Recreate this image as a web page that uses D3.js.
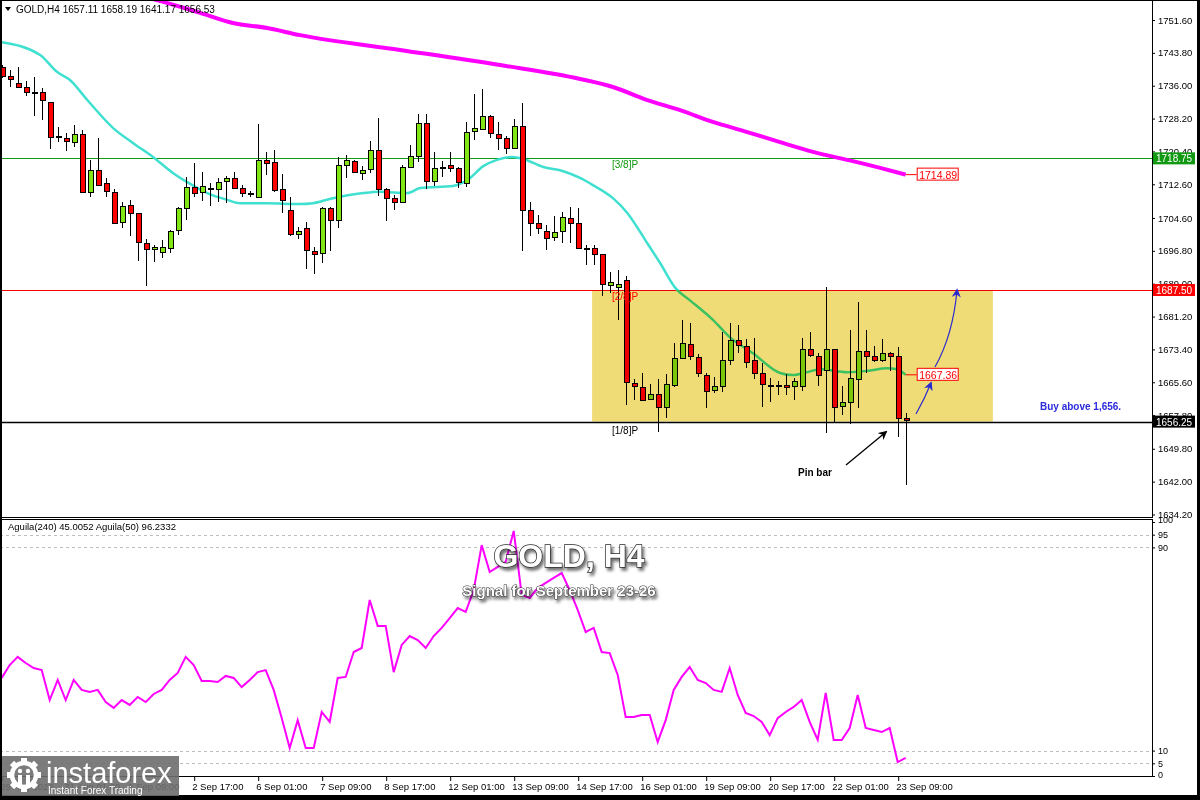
<!DOCTYPE html>
<html><head><meta charset="utf-8">
<script src="https://cdn.jsdelivr.net/npm/d3@7"></script>
<style>body{margin:0;background:#000;} svg{display:block;}</style>
</head><body>
<svg id="c" width="1200" height="800"></svg>
<script>
// ---------- DATA ----------
const opens  = [1740.5,1738.3,1736.6,1735.6,1734.6,1734.4,1732.2,1724.0,1723.5,1722.7,1724.5,1710.8,1716.1,1712.8,1710.8,1703.5,1707.7,1705.7,1698.6,1697.1,1696.3,1697.6,1701.6,1706.9,1712.0,1710.8,1711.8,1711.6,1713.2,1714.2,1711.6,1710.6,1709.5,1718.3,1717.8,1711.4,1706.6,1700.9,1702.1,1696.8,1696.2,1706.9,1704.1,1717.0,1718.1,1715.4,1716.1,1720.7,1711.4,1709.3,1708.4,1716.8,1719.3,1727.2,1713.4,1716.8,1717.2,1716.4,1713.1,1725.1,1725.7,1728.8,1724.5,1723.7,1721.3,1726.5,1706.6,1703.5,1701.6,1700.0,1701.6,1704.7,1703.5,1697.5,1697.4,1696.0,1688.8,1688.3,1689.9,1665.5,1664.5,1661.5,1662.7,1659.6,1665.1,1671.4,1674.6,1671.5,1667.4,1663.7,1664.7,1670.9,1675.6,1674.2,1670.9,1667.7,1664.9,1664.9,1664.9,1664.7,1664.7,1673.4,1671.9,1668.6,1673.6,1659.8,1660.8,1666.5,1673.1,1671.9,1671.0,1672.6,1671.8,1657.11];
const highs  = [1741.0,1739.7,1740.4,1737.0,1738.0,1735.4,1732.2,1726.1,1724.7,1726.7,1725.5,1718.3,1723.5,1714.0,1711.4,1708.4,1708.9,1705.8,1699.5,1698.2,1699.4,1701.7,1707.1,1714.4,1717.7,1715.6,1713.0,1714.0,1714.6,1715.6,1712.4,1711.0,1726.9,1720.3,1720.7,1715.0,1709.5,1702.4,1703.7,1697.6,1707.3,1707.3,1719.0,1719.5,1718.3,1716.9,1722.9,1728.4,1711.6,1710.0,1717.2,1721.9,1729.4,1729.4,1720.3,1718.1,1720.3,1716.6,1727.4,1734.0,1735.1,1729.0,1727.4,1724.0,1728.0,1731.8,1708.4,1705.3,1702.9,1705.0,1706.1,1707.1,1706.9,1698.2,1698.2,1696.1,1691.7,1692.2,1690.8,1666.3,1667.7,1665.3,1666.3,1667.5,1674.9,1680.3,1679.7,1672.3,1667.7,1666.9,1677.6,1679.6,1679.3,1675.8,1676.0,1670.2,1666.7,1665.9,1667.5,1666.7,1676.2,1677.6,1672.6,1688.3,1673.6,1664.7,1678.0,1684.7,1678.0,1674.2,1675.8,1672.8,1674.0,1658.19];
const lows   = [1737.8,1735.8,1735.4,1733.6,1728.8,1727.9,1721.0,1722.7,1720.6,1721.5,1710.7,1709.6,1712.5,1709.5,1703.3,1702.1,1700.3,1694.4,1688.4,1694.2,1695.0,1696.2,1700.5,1704.1,1709.5,1708.7,1707.4,1708.4,1708.1,1711.6,1709.5,1709.5,1709.3,1714.8,1710.8,1705.7,1700.3,1699.5,1692.6,1691.3,1694.0,1696.8,1702.1,1714.0,1715.2,1713.6,1715.3,1709.8,1703.9,1706.6,1708.1,1716.6,1717.9,1711.4,1712.2,1714.4,1715.6,1711.8,1712.0,1723.1,1725.5,1723.7,1720.7,1719.8,1720.9,1696.8,1700.3,1700.8,1697.1,1699.2,1698.7,1698.7,1697.4,1693.4,1693.4,1686.1,1686.8,1680.3,1660.2,1661.4,1661.4,1661.3,1653.8,1657.0,1664.5,1671.0,1670.9,1666.8,1659.6,1663.1,1663.3,1669.7,1672.6,1668.9,1666.3,1659.8,1661.0,1662.6,1662.5,1661.5,1663.6,1671.6,1664.7,1653.6,1656.2,1657.8,1655.8,1659.4,1667.7,1670.4,1670.4,1668.3,1652.5,1641.17];
const closes = [1738.3,1737.5,1735.6,1734.4,1734.6,1732.4,1723.9,1724.0,1722.7,1724.5,1710.8,1716.1,1712.6,1710.8,1703.5,1707.4,1705.7,1698.8,1697.1,1697.6,1697.6,1701.6,1706.9,1712.0,1710.6,1712.2,1711.8,1713.2,1714.0,1711.8,1710.4,1710.6,1718.3,1717.7,1711.2,1708.7,1700.9,1701.6,1696.8,1696.2,1706.9,1704.1,1717.2,1718.3,1715.4,1716.1,1720.7,1711.4,1709.3,1708.4,1716.8,1719.3,1727.2,1713.4,1716.4,1716.8,1716.6,1713.1,1725.1,1725.9,1728.8,1724.7,1723.5,1721.3,1726.5,1706.6,1703.5,1702.3,1700.0,1701.3,1704.9,1703.5,1697.6,1697.5,1696.0,1688.9,1689.5,1688.9,1665.7,1664.7,1661.5,1662.7,1659.6,1665.1,1671.4,1675.0,1671.8,1667.7,1663.7,1664.7,1670.9,1675.6,1674.4,1670.4,1667.7,1665.1,1664.9,1664.9,1664.5,1665.9,1673.4,1672.0,1667.4,1673.6,1659.8,1660.8,1666.5,1673.1,1672.0,1671.0,1672.6,1672.0,1657.0,1656.53];

const maFastIdx = [-0.2,4.8,6.9,8.5,10.7,13.9,16.4,18.9,21.4,23.2,25.7,28.2,29.8,33.2,37.3,38.9,41.0,45.2,47.3,50.7,52.3,56.4,58.2,60.2,61.9,63.9,65.2,67.7,70.2,72.3,73.9,76.4,78.2,80.7,82.3,84.2,86.0,88.9,91.0,93.9,97.3,98.9,100.7,102.3,105.7,108.2,110.7,111.9,113];
const maFastVal = [1746.4,1743.3,1739.3,1737.4,1732.6,1726.0,1722.4,1719.1,1715.3,1713.1,1710.5,1708.9,1708.1,1708.1,1707.9,1708.1,1709.1,1710.5,1710.8,1710.5,1711.7,1712.2,1713.6,1716.9,1718.4,1719.1,1718.6,1716.7,1715.7,1714.1,1712.4,1709.3,1705.8,1698.6,1693.9,1688.0,1685.1,1680.4,1676.3,1672.5,1667.8,1667.3,1668.0,1668.7,1668.0,1668.3,1668.9,1668.7,1667.36];
const maSlowIdx = [18.0,20.2,24.8,28.9,33.2,37.3,49.8,62.3,72.3,76.4,80.7,84.8,88.9,93.2,97.3,101.4,105.7,109.8,113];
const maSlowVal = [1757.0,1755.9,1753.3,1750.9,1749.7,1748.0,1744.5,1740.9,1737.6,1735.7,1732.6,1730.2,1727.4,1725.0,1722.6,1720.3,1718.4,1716.5,1714.89];

const aguila = [38.6,43.7,46.9,44.5,42.5,41.7,29.9,37.8,29.9,37.8,33.9,33.1,33.9,29.1,26.8,29.9,28.0,31.1,29.1,32.3,33.9,37.8,40.6,46.9,43.7,37.4,37.4,37.0,39.4,38.6,35.0,37.8,40.9,41.7,33.9,22.8,11.0,22.0,11.0,11.0,25.2,21.3,38.6,39.0,48.8,50.4,69.3,59.1,59.1,40.9,51.6,55.1,53.5,50.4,55.1,58.3,62.2,66.1,64.6,73.2,90.9,80.3,82.3,84.3,96.5,71.3,70.1,74.0,76.0,78.0,79.9,73.2,65.4,56.7,58.3,48.8,48.4,39.8,23.2,23.2,24.0,24.0,13.4,22.0,33.9,39.0,42.9,37.8,36.6,33.9,33.1,42.5,31.9,24.8,23.6,21.3,16.1,22.8,25.2,27.2,29.9,21.3,14.2,32.7,14.2,14.2,18.9,31.9,18.9,18.1,17.3,18.9,5.5,7.1];

const timeTickIdx = [0,8,16,24,32,40,48,56,64,72,80,88,96,104,112];
const timeLabels = ["29 Aug 2022","31 Aug 01:00","1 Sep 09:00","2 Sep 17:00","6 Sep 01:00","7 Sep 09:00","8 Sep 17:00","12 Sep 01:00","13 Sep 09:00","14 Sep 17:00","16 Sep 01:00","19 Sep 09:00","20 Sep 17:00","22 Sep 01:00","23 Sep 09:00"];
const priceTicks = [1751.6,1743.8,1736.0,1728.2,1720.4,1712.6,1704.6,1696.8,1689.0,1681.2,1673.4,1665.6,1657.8,1649.8,1642.0,1634.2];
const levelVals = [1718.75,1687.50,1656.25];
const levelNames = ["[3/8]P","[2/8]P","[1/8]P"];
const levelColors = ["#119911","#ff0000","#000000"];
const aguilaLevels = [95,90,10,5];
const aguilaTicks = [100,95,90,10,5,0];
const zoneIdx = [73.8,123.9];
const zonePrices = [1687.5,1656.25];
const lastFast = 1667.36, lastSlow = 1714.89;

// ---------- SETUP ----------
const svg = d3.select('#c');
const W=1200,H=800, axisX=1152;
const n = opens.length;
const x = d3.scaleLinear().domain([0,113]).range([1.7,905.7]);
const y = d3.scaleLinear().domain([1634.2,1751.6]).range([514.5,20]);
const yi = d3.scaleLinear().domain([0,100]).range([776,522]);
const font = "'Liberation Sans', Arial, sans-serif";

const defs = svg.append('defs');
defs.append('clipPath').attr('id','clipMain').append('rect').attr('x',2).attr('y',1).attr('width',axisX-2).attr('height',516);
defs.append('clipPath').attr('id','clipInd').append('rect').attr('x',2).attr('y',519).attr('width',axisX-2).attr('height',257);
const sh = defs.append('filter').attr('id','shadow').attr('x','-20%').attr('y','-40%').attr('width','140%').attr('height','180%');
sh.append('feDropShadow').attr('dx',2).attr('dy',3).attr('stdDeviation',1.6).attr('flood-color','#000').attr('flood-opacity',0.55);
const mk = (id,col)=>defs.append('marker').attr('id',id).attr('viewBox','0 0 10 10').attr('refX',8).attr('refY',5)
  .attr('markerWidth',9).attr('markerHeight',9).attr('markerUnits','userSpaceOnUse').attr('orient','auto')
  .append('path').attr('d','M0,0 L10,5 L0,10 L3,5 Z').attr('fill',col);
mk('arrBlk','#000'); mk('arrBlue','#2a2ad0');

svg.append('rect').attr('width',W).attr('height',H).attr('fill','#000');
svg.append('rect').attr('x',2).attr('y',1).attr('width',1195).attr('height',794).attr('fill','#fff');

// ---------- MAIN PANEL ----------
const main = svg.append('g').attr('clip-path','url(#clipMain)');
// level lines
main.selectAll('line.lvl').data(levelVals).join('line')
  .attr('x1',0).attr('x2',axisX).attr('y1',d=>Math.round(y(d))+0.5).attr('y2',d=>Math.round(y(d))+0.5)
  .attr('stroke',(d,i)=>levelColors[i]).attr('stroke-width',(d,i)=>i==2?1.6:1);

// moving averages
const lineGen = d3.line().curve(d3.curveMonotoneX);
main.append('path').attr('d',lineGen(maSlowIdx.map((d,i)=>[x(d),y(maSlowVal[i])])))
  .attr('fill','none').attr('stroke','#ff00ff').attr('stroke-width',4);
main.append('path').attr('d',lineGen(maFastIdx.map((d,i)=>[x(d),y(maFastVal[i])])))
  .attr('fill','none').attr('stroke','#40e0d0').attr('stroke-width',2.5);

// candles
const cg = main.append('g').attr('shape-rendering','crispEdges');
const idx = d3.range(n);
cg.selectAll('line.w').data(idx).join('line')
  .attr('x1',i=>Math.round(x(i))+0.5).attr('x2',i=>Math.round(x(i))+0.5)
  .attr('y1',i=>Math.round(y(highs[i]))).attr('y2',i=>Math.round(y(lows[i])))
  .attr('stroke','#000').attr('stroke-width',1);
cg.selectAll('rect.b').data(idx).join('rect')
  .attr('x',i=>Math.round(x(i))-2)
  .attr('width',5)
  .attr('y',i=>Math.round(y(Math.max(opens[i],closes[i]))))
  .attr('height',i=>Math.max(1,Math.round(Math.abs(y(opens[i])-y(closes[i])))))
  .attr('fill',i=>Math.abs(opens[i]-closes[i])<0.2?'#000':(closes[i]>opens[i]?'#82e614':'#ff0000'))
  .attr('stroke','#000').attr('stroke-width',1);

// yellow zone (multiply)
svg.append('rect')
  .attr('x',x(zoneIdx[0])).attr('width',x(zoneIdx[1])-x(zoneIdx[0]))
  .attr('y',y(zonePrices[0])).attr('height',y(zonePrices[1])-y(zonePrices[0]))
  .attr('fill','#efdc76').style('mix-blend-mode','multiply');

// level texts
svg.selectAll('text.lvl').data(levelVals).join('text')
  .attr('x',612).attr('y',(d,i)=>i==2? y(d)+12 : y(d)+10)
  .attr('font-family',font).attr('font-size',10).attr('fill',(d,i)=>levelColors[i])
  .text((d,i)=>levelNames[i]);

// end-of-line labels
function endLabel(val,col){
  const yy = y(val), x0 = x(113);
  svg.append('line').attr('x1',x0).attr('x2',x0+11).attr('y1',yy).attr('y2',yy).attr('stroke',col);
  svg.append('rect').attr('x',x0+11.5).attr('y',yy-6.5).attr('width',41).attr('height',12).attr('fill','#fff').attr('stroke',col);
  svg.append('text').attr('x',x0+13.5).attr('y',yy+4).attr('font-family',font).attr('font-size',10.5).attr('fill',col).text(d3.format('.2f')(val));
}
endLabel(lastSlow,'#ff0000');
endLabel(lastFast,'#ff0000');

// annotations
svg.append('text').attr('x',1040).attr('y',410).attr('font-family',font).attr('font-size',10).attr('font-weight','bold')
  .attr('fill','#2b2bdb').text('Buy above 1,656.');
svg.append('text').attr('x',798).attr('y',476).attr('font-family',font).attr('font-size',10).attr('font-weight','bold')
  .attr('fill','#000').text('Pin bar');
svg.append('path').attr('d','M846,465 L886,432').attr('stroke','#000').attr('stroke-width',1.3).attr('fill','none').attr('marker-end','url(#arrBlk)');
svg.append('path').attr('d','M916,414 Q925,398 931,383').attr('stroke','#2a2ad0').attr('stroke-width',1.2).attr('fill','none').attr('marker-end','url(#arrBlue)');
svg.append('path').attr('d','M935,367 Q953,335 957,290').attr('stroke','#2a2ad0').attr('stroke-width',1.2).attr('fill','none').attr('marker-end','url(#arrBlue)');

// header
svg.append('path').attr('d','M5,7 L11,7 L8,11 Z').attr('fill','#000');
svg.append('text').attr('x',16).attr('y',13).attr('font-family',font).attr('font-size',10).attr('fill','#000')
  .text('GOLD,H4  '+[opens[n-1],highs[n-1],lows[n-1],closes[n-1]].map(d3.format('.2f')).join(' '));

// price axis
const pa = svg.append('g').attr('transform',`translate(${axisX},0)`)
  .call(d3.axisRight(y).tickValues(priceTicks).tickSize(3).tickFormat(d3.format('.2f')));
pa.select('.domain').remove();
pa.selectAll('text').attr('font-family',font).attr('font-size',9.5).attr('fill','#000').attr('x',6);
pa.selectAll('line').attr('stroke','#000');
// level price boxes on axis
levelVals.forEach((v,i)=>{
  const yy=y(v);
  svg.append('rect').attr('x',axisX+1).attr('y',yy-6).attr('width',42).attr('height',12).attr('fill',levelColors[i]);
  svg.append('text').attr('x',axisX+4).attr('y',yy+4).attr('font-family',font).attr('font-size',10).attr('fill','#fff').text(d3.format('.2f')(v));
});

// ---------- INDICATOR PANEL ----------
const ind = svg.append('g').attr('clip-path','url(#clipInd)');
ind.selectAll('line.al').data(aguilaLevels).join('line')
  .attr('x1',0).attr('x2',axisX).attr('y1',d=>Math.round(yi(d))+0.5).attr('y2',d=>Math.round(yi(d))+0.5)
  .attr('stroke','#bdbdbd').attr('stroke-dasharray','3,3');
ind.append('path').attr('d',d3.line().x((d,i)=>x(i)).y(d=>yi(d))(aguila))
  .attr('fill','none').attr('stroke','#ff00ff').attr('stroke-width',2);
svg.append('text').attr('x',8).attr('y',530).attr('font-family',font).attr('font-size',9.5).attr('fill','#000')
  .text('Aguila(240) 45.0052  Aguila(50) 96.2332');
const ia = svg.append('g').attr('transform',`translate(${axisX},0)`)
  .call(d3.axisRight(yi).tickValues(aguilaTicks).tickSize(3).tickFormat(d3.format('d')));
ia.select('.domain').remove();
ia.selectAll('text').attr('font-family',font).attr('font-size',9).attr('fill','#000').attr('x',6)
  .attr('dy',d=>d==100?'0.1em':(d==0?'0.15em':'0.32em'));
ia.selectAll('line').attr('stroke','#000');

// titles
const tg = svg.append('g').attr('filter','url(#shadow)');
tg.append('text').attr('x',569).attr('y',567).attr('text-anchor','middle').attr('font-family',font)
  .attr('font-size',32).attr('font-weight','bold').attr('fill','#fff').attr('stroke','#2a2a2a').attr('stroke-width',1.4)
  .attr('paint-order','stroke').text('GOLD, H4');
tg.append('text').attr('x',559).attr('y',596).attr('text-anchor','middle').attr('font-family',font)
  .attr('font-size',15).attr('font-weight','bold').attr('fill','#fff').attr('stroke','#2a2a2a').attr('stroke-width',1)
  .attr('paint-order','stroke').text('Signal for September 23-26');

// ---------- FRAMES ----------
const fr = svg.append('g').attr('stroke','#000').attr('fill','none').attr('shape-rendering','crispEdges');
fr.append('line').attr('x1',axisX+0.5).attr('x2',axisX+0.5).attr('y1',1).attr('y2',517);
fr.append('line').attr('x1',0).attr('x2',axisX+1).attr('y1',517.5).attr('y2',517.5);
fr.append('rect').attr('x',1.5).attr('y',519.5).attr('width',axisX-1).attr('height',257);

// time axis
const ta = svg.append('g').attr('transform','translate(0,777)')
  .call(d3.axisBottom(x).tickValues(timeTickIdx).tickSize(4).tickFormat((d,i)=>timeLabels[i]));
ta.select('.domain').remove();
ta.selectAll('line').attr('stroke','#000').attr('transform','translate(0.5,0)');
ta.selectAll('text').attr('font-family',font).attr('font-size',9.5).attr('fill','#000')
  .attr('text-anchor','start').attr('x',-2).attr('y',6).attr('dy','0.71em');

// ---------- LOGO ----------
const lg = svg.append('g');
lg.append('rect').attr('x',2).attr('y',756).attr('width',177).attr('height',40).attr('fill','#6e6e6e').attr('opacity',0.9);
const gear = lg.append('g').attr('transform','translate(24,775)');
d3.range(8).forEach(k=>gear.append('rect').attr('x',-3).attr('y',-17).attr('width',6).attr('height',7)
  .attr('fill','#fff').attr('transform',`rotate(${k*45})`));
gear.append('circle').attr('r',12).attr('fill','none').attr('stroke','#fff').attr('stroke-width',4.5);
gear.append('circle').attr('cx',-4).attr('cy',-4).attr('r',2.2).attr('fill','#fff');
gear.append('circle').attr('cx',4).attr('cy',-4).attr('r',2.2).attr('fill','#fff');
gear.append('rect').attr('x',-6).attr('y',0).attr('width',4).attr('height',10).attr('fill','#fff');
gear.append('rect').attr('x',2).attr('y',0).attr('width',4).attr('height',10).attr('fill','#fff');
lg.append('text').attr('x',46).attr('y',783).attr('font-family',font).attr('font-size',29).attr('fill','#fff').text('instaforex');
lg.append('text').attr('x',48).attr('y',794).attr('font-family',font).attr('font-size',10).attr('fill','#fff').text('Instant Forex Trading');
</script>
</body></html>
